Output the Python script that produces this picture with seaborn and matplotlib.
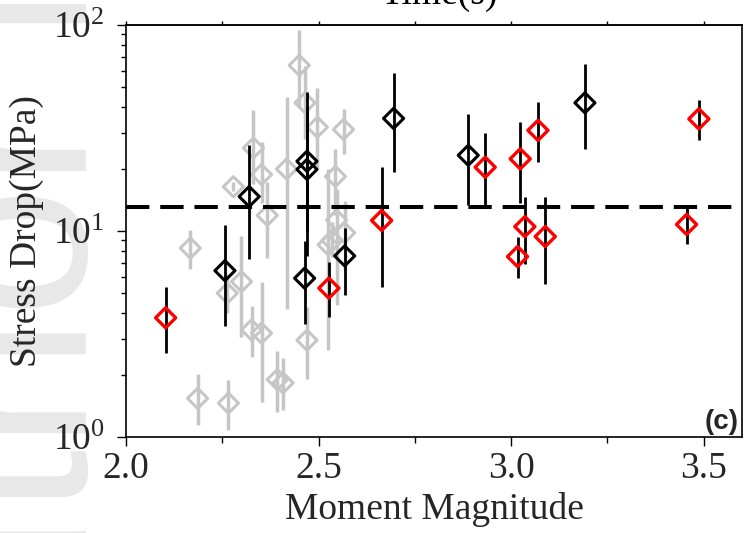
import numpy as np
import pandas as pd
import matplotlib
matplotlib.use("Agg")
import matplotlib.pyplot as plt
import seaborn as sns

# ---------------- data ----------------
gray_mw = [2.167, 2.186, 2.266, 2.263, 2.279, 2.300, 2.326, 2.331, 2.352, 2.352, 2.367, 2.393,
           2.408, 2.417, 2.450, 2.465, 2.470, 2.497, 2.525, 2.535, 2.547, 2.544, 2.568, 2.565]
gray_sd = [8.26, 1.54, 1.46, 4.99, 16.4, 5.68, 3.31, 25.3, 18.8, 3.19, 11.9, 1.90,
           1.83, 20.0, 63.7, 41.9, 2.95, 31.9, 8.57, 9.0, 11.3, 18.4, 9.8, 31.1]
gray_lo = [6.55, 1.14, 1.08, 4.0, 15.6, 3.07, 2.45, 17.0, 13.7, 1.48, 7.4, 1.32,
           1.35, 4.17, 40.0, 28.0, 1.92, 19.9, 2.64, 7.5, 4.37, 12.0, 6.5, 23.7]
gray_hi = [10.1, 2.02, 1.9, 6.2, 17.3, 9.47, 4.33, 38.5, 27.0, 5.68, 17.2, 2.62,
           2.41, 44.6, 94.6, 63.0, 4.26, 49.6, 19.9, 11.0, 16.0, 25.0, 14.0, 39.3]

black_mw = [2.257, 2.320, 2.464, 2.470, 2.470, 2.568, 2.695, 2.889, 3.192]
black_sd = [6.42, 14.7, 5.9, 21.8, 19.9, 7.57, 35.2, 23.3, 41.9]
black_lo = [3.46, 7.3, 3.54, 10.0, 7.6, 4.89, 19.4, 13.4, 25.0]
black_hi = [10.7, 26.1, 8.96, 47.4, 40.0, 10.3, 58.2, 37.0, 64.9]

red_mw = [2.103, 2.527, 2.664, 2.933, 3.017, 3.024, 3.036, 3.070, 3.089, 3.456, 3.488]
red_sd = [3.79, 5.28, 11.25, 20.4, 7.51, 22.4, 10.5, 30.8, 9.4, 10.76, 35.0]
red_lo = [2.56, 3.84, 5.37, 13.1, 5.9, 13.7, 6.9, 21.6, 5.52, 8.66, 27.8]
red_hi = [5.33, 7.1, 20.4, 29.9, 9.34, 33.9, 14.6, 42.2, 14.6, 13.0, 43.2]

mean_stress_drop = 13.1

x_ticks = [2.0, 2.5, 3.0, 3.5]
x_ticklabels = ["2.0", "2.5", "3.0", "3.5"]
y_ticks = [1, 10, 100]
y_ticklabels = [r"$\mathregular{10^{0}}$", r"$\mathregular{10^{1}}$", r"$\mathregular{10^{2}}$"]

# ---------------- style ----------------
sns.set_theme(style="ticks")
plt.rcParams["font.family"] = ["Liberation Serif", "DejaVu Serif"]
plt.rcParams["mathtext.fontset"] = "custom"
plt.rcParams["mathtext.rm"] = "Liberation Serif"
plt.rcParams["mathtext.it"] = "Liberation Serif:italic"
plt.rcParams["mathtext.bf"] = "Liberation Serif:bold"

GRAY = "#c6c6c6"
fig = plt.figure(figsize=(7.49, 5.33), dpi=100)
ax = fig.add_axes([126 / 749, 1 - 437 / 533, 616 / 749, (437 - 25) / 533])
ax.set_zorder(1)

# watermark (behind everything)
fig.text(0.035, 1.29, "Author Manuscript", rotation=90, fontsize=170, color="#e8e8e8",
         family="Liberation Sans", ha="center", va="center", zorder=-5)
# partially visible title of the panel above
fig.text(380 / 749, 1 - 4 / 533, "Time(s)", fontsize=27, ha="left", va="baseline", color="black")

gray_df = pd.DataFrame({"mw": gray_mw, "sd": gray_sd})
black_df = pd.DataFrame({"mw": black_mw, "sd": black_sd})
red_df = pd.DataFrame({"mw": red_mw, "sd": red_sd})

def yerr(sd, lo, hi):
    sd = np.asarray(sd); return np.vstack([sd - np.asarray(lo), np.asarray(hi) - sd])

ax.errorbar(gray_mw, gray_sd, yerr=yerr(gray_sd, gray_lo, gray_hi), fmt="none",
            ecolor=GRAY, elinewidth=2.5, capsize=0, zorder=1)
sns.scatterplot(data=gray_df, x="mw", y="sd", ax=ax, marker="D", s=105,
                facecolors="none", edgecolor=GRAY, linewidth=2.2, zorder=2)

ax.axhline(mean_stress_drop, color="black", lw=2.9, linestyle=(0, (5.8, 2.7)), zorder=3)

ax.errorbar(black_mw, black_sd, yerr=yerr(black_sd, black_lo, black_hi), fmt="none",
            ecolor="black", elinewidth=2.0, capsize=0, zorder=4)
ax.errorbar(red_mw, red_sd, yerr=yerr(red_sd, red_lo, red_hi), fmt="none",
            ecolor="black", elinewidth=2.0, capsize=0, zorder=4)
sns.scatterplot(data=black_df, x="mw", y="sd", ax=ax, marker="D", s=105,
                facecolors="none", edgecolor="black", linewidth=2.2, zorder=5)
sns.scatterplot(data=red_df, x="mw", y="sd", ax=ax, marker="D", s=105,
                facecolors="none", edgecolor="#ff0000", linewidth=2.4, zorder=6)

ax.set_yscale("log")
ax.set_xlim(2.0, 3.6)
ax.set_ylim(1, 100)
ax.set_xticks(x_ticks)
ax.set_xticklabels(x_ticklabels)
ax.set_xticks(np.arange(2.25, 3.6, 0.5), minor=True)
ax.set_yticks(y_ticks)
ax.set_yticklabels(y_ticklabels)
ax.tick_params(axis="x", which="major", labelsize=27, length=6.5, width=1.0,
               direction="out", color="black", pad=4)
ax.tick_params(axis="y", which="major", labelsize=27, length=6.5, width=1.0,
               direction="out", color="black", pad=9)
ax.tick_params(axis="x", which="minor", length=4.3, width=1.0, direction="out", color="black")
ax.tick_params(axis="y", which="minor", length=3.4, width=1.0, direction="out", color="black")

top = ax.secondary_xaxis("top")
top.set_xticks(np.arange(2.0, 3.61, 0.25))
top.tick_params(length=3, width=1.0, direction="out", labeltop=False, color="black")
top.spines["top"].set_linewidth(1.2)

for s in ax.spines.values():
    s.set_linewidth(1.2)
    s.set_color("black")

ax.set_xlabel("Moment Magnitude", fontsize=27, labelpad=4)
ax.set_ylabel("Stress Drop(MPa)", fontsize=27, labelpad=6)
ax.text(0.995, 0.005, "(c)", transform=ax.transAxes, ha="right", va="bottom",
        fontsize=20, fontweight="bold", family="Liberation Sans", zorder=10)

fig.savefig("out.png", dpi=100)
